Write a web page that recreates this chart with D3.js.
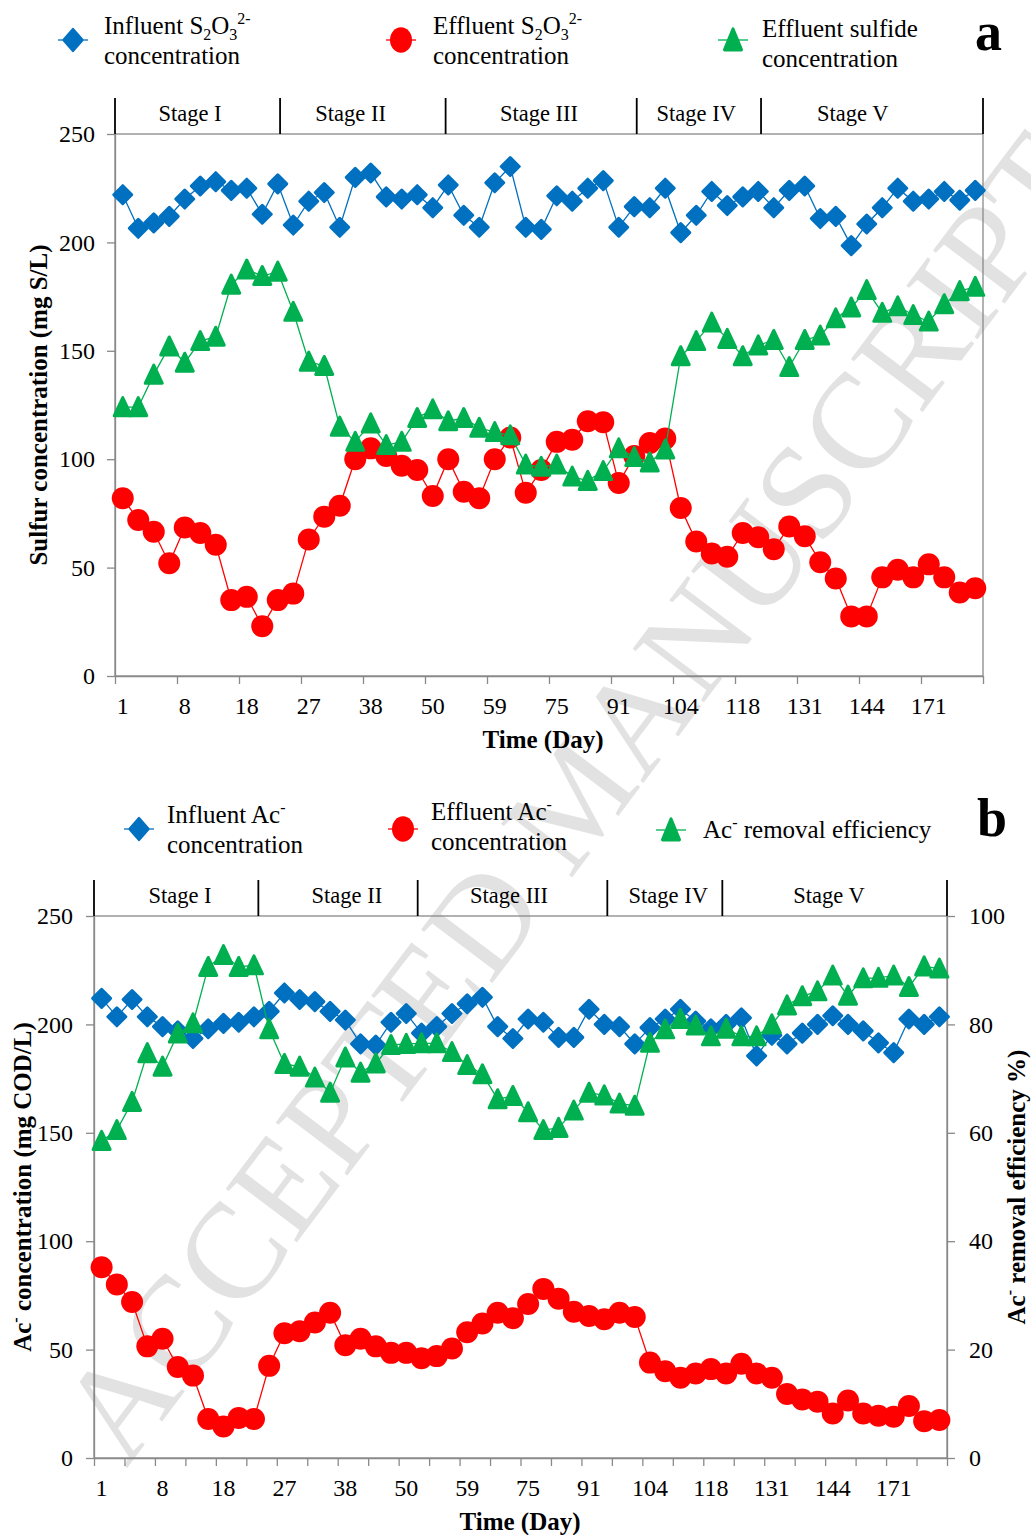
<!DOCTYPE html>
<html>
<head>
<meta charset="utf-8">
<title>Sulfur and acetate profiles</title>
<script src="https://cdnjs.cloudflare.com/ajax/libs/d3/7.8.5/d3.min.js"></script>
<style>
  body { margin: 0; background: #fff; }
  svg text { font-family: "Liberation Serif", "Times New Roman", serif; fill: #000; }
</style>
</head>
<body>
<div id="chart"></div>
<script>
// 56 samples on a category axis, only every 4th one is labelled
var dayLabels = [1, 8, 18, 27, 38, 50, 59, 75, 91, 104, 118, 131, 144, 171];
var stageNames = ["Stage I", "Stage II", "Stage III", "Stage IV", "Stage V"];

// panel a, mg S/L
var influentThio = [222, 206.5, 209, 212, 220, 226, 228, 224, 225, 213, 227, 208, 219, 223, 207, 230, 232, 221, 220, 222,
  216, 226.5, 212.5, 207, 227.5, 235, 207, 206, 221.5, 219, 225, 228.5, 207, 216.5, 216, 225, 204.5, 212.5, 223.5, 217,
  221, 223.5, 216, 224, 226, 211, 212, 198.5, 208.5, 216, 225, 219, 220, 223.5, 219.5, 224];
var effluentThio = [82, 72, 66.5, 52, 68.5, 66, 60.5, 35, 36.5, 23, 35, 38, 63, 73.5, 78.5, 100, 105, 101.5, 97, 95,
  83, 100, 85, 82, 100, 110, 84.5, 95, 108, 109, 117.5, 117, 89, 101.5, 107.5, 109.5, 77.5, 62, 56.5, 55,
  66, 64, 58.5, 69, 64.5, 52.5, 45, 27.5, 27.5, 45.5, 49, 45.5, 51.5, 45.5, 38.5, 40.5];
var effluentSulfide = [124, 124, 139, 152, 144.5, 154.5, 156.5, 180.5, 187.5, 184.5, 186.5, 168, 145, 143, 115, 108, 116.5, 106.5, 108, 119,
  123, 117.5, 119, 114.5, 112.5, 111, 97.5, 96.5, 97.5, 92, 90, 94.5, 105, 101, 98.5, 104.5, 147.5, 154.5, 163, 155.5,
  147.5, 152.5, 155, 142.5, 155, 157, 165, 170, 178, 167.5, 170.5, 166.5, 163.5, 171.5, 177.5, 179.5];

// panel b, mg COD/L and %
var influentAc = [212, 203.5, 211.5, 203.5, 199, 197, 193.5, 198, 200.5, 201, 203.5, 206, 214.5, 211.5, 210.5, 206, 202, 191, 190.5, 201,
  205, 196, 199, 205, 209.5, 212.5, 199, 193.5, 202.5, 201, 194, 194, 207, 200, 199, 191, 198.5, 202.5, 207, 201.5,
  198, 200, 203, 185.5, 195, 191, 196, 200, 204, 200, 197, 191.5, 187, 202.5, 200, 203.5];
var effluentAc = [88, 80, 72, 51.5, 55, 42, 38, 18, 14.5, 18.5, 18, 42.5, 57.5, 58.5, 62.5, 67, 52, 55, 51.5, 48.5,
  48.5, 46, 47, 50.5, 58, 62, 67, 64.5, 71, 78, 73.5, 67.5, 65.5, 64, 67, 65, 44, 40, 37, 39,
  41, 39, 43.5, 39, 37, 29.5, 27, 26, 20.5, 26.5, 20.5, 19.5, 19, 24, 17, 17.5];
var acRemoval = [58.5, 60.5, 65.7, 74.7, 72.2, 78.3, 80.2, 90.6, 92.8, 90.6, 90.9, 79.1, 72.7, 72.2, 70.2, 67.4, 73.9, 71.1, 72.8, 76.2,
  76.4, 76.5, 76.5, 74.9, 72.5, 70.8, 66.2, 66.8, 63.8, 60.5, 60.9, 64.1, 67.4, 66.9, 65.4, 65, 76.6, 79.1, 81, 79.8,
  77.8, 79.2, 77.8, 77.8, 80, 83.5, 85.2, 86.1, 89, 85.3, 88.5, 88.6, 89, 86.9, 90.7, 90.3];

// stage borders and label centres, in sample-index units
var stageBreaksA = [10.65, 21.33, 33.66, 41.68];
var stageLabelA = [4.84, 15.2, 27.35, 37.5, 47.6];
var stageBreaksB = [10.79, 21.25, 33.7, 41.25];
var stageLabelB = [5.65, 16.6, 27.25, 37.7, 48.25];

var blue = "#0070c0", red = "#ff0000", green = "#00b050", grey = "#898989";
var nCat = influentThio.length;

var svg = d3.select("#chart").append("svg")
  .attr("width", 1031).attr("height", 1535);

// watermark
svg.append("text")
  .attr("transform", "translate(575,797) rotate(-53)")
  .attr("text-anchor", "middle")
  .attr("dominant-baseline", "central")
  .style("font-size", "136px")
  .style("fill", "#e2e2e2")
  .text("ACCEPTED MANUSCRIPT");

var shapes = {
  diamond: "M0,-9L9,0L0,9L-9,0Z",
  triangle: "M0,-9.5L8.5,8.5L-8.5,8.5Z",
  circle: "M-11,0a11,11 0 1,0 22,0a11,11 0 1,0 -22,0"
};

function drawMarker(g, shape, color) {
  g.append("path")
    .attr("d", shapes[shape])
    .attr("fill", color)
    .attr("stroke", shape == "circle" ? "none" : color)
    .attr("stroke-width", 3)
    .attr("stroke-linejoin", "round");
}

function drawSeries(g, x, y, values, shape, color) {
  var line = d3.line()
    .x(function(d, i) { return x(i + 0.5); })
    .y(function(d) { return y(d); });
  g.append("path").datum(values)
    .attr("d", line)
    .attr("fill", "none")
    .attr("stroke", color)
    .attr("stroke-width", 1.3);
  g.selectAll(null).data(values).enter().append("g")
    .attr("transform", function(d, i) { return "translate(" + x(i + 0.5) + "," + y(d) + ")"; })
    .each(function() { drawMarker(d3.select(this), shape, color); });
}

function styleAxis(g) {
  g.select(".domain").attr("stroke", grey).attr("stroke-width", 1.3);
  g.selectAll(".tick line").attr("stroke", grey).attr("stroke-width", 1.3);
  g.selectAll(".tick text").style("font-size", "24px").attr("fill", "#000");
}

// text with sub/superscripts: parts = [[text, "sub"|"sup"|null], ...]
function richText(sel, parts, size) {
  var small = Math.round(size * 0.62), shift = 0;
  parts.forEach(function(p) {
    var t = sel.append("tspan").text(p[0]);
    var want = p[1] == "sub" ? size * 0.25 : p[1] == "sup" ? -size * 0.42 : 0;
    t.attr("dy", want - shift).style("font-size", (p[1] ? small : size) + "px");
    shift = want;
  });
}

function drawPanel(p) {
  var x = d3.scaleLinear().domain([0, nCat]).range([p.left, p.right]);
  var y = d3.scaleLinear().domain([0, 250]).range([p.bottom, p.top]);
  var g = svg.append("g");

  // plot frame
  g.append("rect")
    .attr("x", p.left).attr("y", p.top)
    .attr("width", p.right - p.left).attr("height", p.bottom - p.top)
    .attr("fill", "none").attr("stroke", grey).attr("stroke-width", 1.3);

  // stage strip
  var borders = [0].concat(p.breaks, [nCat]);
  g.selectAll(null).data(borders).enter().append("line")
    .attr("x1", function(d) { return x(d); }).attr("x2", function(d) { return x(d); })
    .attr("y1", p.top - 36).attr("y2", p.top)
    .attr("stroke", "#000").attr("stroke-width", 1.8);
  g.selectAll(null).data(stageNames).enter().append("text")
    .attr("x", function(d, i) { return x(p.stageLabel[i]); })
    .attr("y", p.top - 13)
    .attr("text-anchor", "middle")
    .style("font-size", "22.5px")
    .text(function(d) { return d; });

  // x axis: tick marks on category borders, labels under every 4th sample
  g.append("g")
    .attr("transform", "translate(0," + p.bottom + ")")
    .call(d3.axisBottom(x).tickValues(d3.range(0, nCat + 1, p.tickStep)).tickFormat("").tickSizeInner(8).tickSizeOuter(0))
    .call(styleAxis);
  g.selectAll(null).data(dayLabels).enter().append("text")
    .attr("x", function(d, i) { return x(i * 4 + 0.5); })
    .attr("y", p.bottom + 38)
    .attr("text-anchor", "middle")
    .style("font-size", "24px")
    .text(function(d) { return d; });

  g.append("g")
    .attr("transform", "translate(" + p.left + ",0)")
    .call(d3.axisLeft(y).tickValues(d3.range(0, 251, 50)).tickSizeInner(8).tickSizeOuter(0).tickPadding(p.padLeft))
    .call(styleAxis);

  var xt = g.append("text")
    .attr("x", p.titleX).attr("y", p.bottom + 72)
    .attr("text-anchor", "middle")
    .style("font-size", "25px").style("font-weight", "bold");
  richText(xt, [["Time (Day)"]], 25);

  var yt = g.append("text")
    .attr("transform", "translate(" + p.yTitleX + "," + (p.top + p.bottom) / 2 + ") rotate(-90)")
    .attr("text-anchor", "middle")
    .style("font-size", "25px").style("font-weight", "bold");
  richText(yt, p.yTitle, 25);

  return { g: g, x: x, y: y };
}

function drawLegend(items, size) {
  items.forEach(function(it) {
    var m = svg.append("g").attr("transform", "translate(" + it.mx + "," + it.my + ")");
    m.append("line").attr("x1", -15).attr("x2", 15).attr("stroke", it.color).attr("stroke-width", 1.3);
    var inner = m.append("g").attr("transform", "scale(1,1.15)");
    drawMarker(inner, it.shape, it.color);
    it.lines.forEach(function(parts, k) {
      var t = svg.append("text")
        .attr("x", it.tx).attr("y", it.ty + k * 30)
        .style("font-size", size + "px");
      richText(t, parts, size);
    });
  });
}

// ---------- panel a ----------
var a = drawPanel({
  left: 115, right: 983, top: 134, bottom: 676,
  breaks: stageBreaksA, stageLabel: stageLabelA,
  tickStep: 4, padLeft: 12, titleX: 543, yTitleX: 47,
  yTitle: [["Sulfur concentration (mg S/L)"]]
});
drawSeries(a.g, a.x, a.y, influentThio, "diamond", blue);
drawSeries(a.g, a.x, a.y, effluentThio, "circle", red);
drawSeries(a.g, a.x, a.y, effluentSulfide, "triangle", green);

drawLegend([
  { mx: 73, my: 40, shape: "diamond", color: blue, tx: 104, ty: 34,
    lines: [[["Influent S"], ["2", "sub"], ["O"], ["3", "sub"], ["2-", "sup"]], [["concentration"]]] },
  { mx: 401, my: 40, shape: "circle", color: red, tx: 433, ty: 34,
    lines: [[["Effluent S"], ["2", "sub"], ["O"], ["3", "sub"], ["2-", "sup"]], [["concentration"]]] },
  { mx: 733, my: 40, shape: "triangle", color: green, tx: 762, ty: 37,
    lines: [[["Effluent sulfide"]], [["concentration"]]] }
], 25);

svg.append("text").attr("x", 975).attr("y", 50)
  .style("font-size", "54px").style("font-weight", "bold").text("a");

// ---------- panel b ----------
var b = drawPanel({
  left: 94, right: 947, top: 916, bottom: 1458,
  breaks: stageBreaksB, stageLabel: stageLabelB,
  tickStep: 2, padLeft: 13, titleX: 520, yTitleX: 31,
  yTitle: [["Ac"], ["-", "sup"], [" concentration (mg COD/L)"]]
});
var yPct = d3.scaleLinear().domain([0, 100]).range([1458, 916]);
b.g.append("g")
  .attr("transform", "translate(947,0)")
  .call(d3.axisRight(yPct).tickValues(d3.range(0, 101, 20)).tickSizeInner(8).tickSizeOuter(0).tickPadding(14))
  .call(styleAxis);
var rt = b.g.append("text")
  .attr("transform", "translate(1025,1187) rotate(-90)")
  .attr("text-anchor", "middle")
  .style("font-size", "25px").style("font-weight", "bold");
richText(rt, [["Ac"], ["-", "sup"], [" removal efficiency %)"]], 25);

drawSeries(b.g, b.x, b.y, influentAc, "diamond", blue);
drawSeries(b.g, b.x, b.y, effluentAc, "circle", red);
drawSeries(b.g, b.x, yPct, acRemoval, "triangle", green);

drawLegend([
  { mx: 139, my: 829, shape: "diamond", color: blue, tx: 167, ty: 823,
    lines: [[["Influent Ac"], ["-", "sup"]], [["concentration"]]] },
  { mx: 403, my: 829, shape: "circle", color: red, tx: 431, ty: 820,
    lines: [[["Effluent Ac"], ["-", "sup"]], [["concentration"]]] },
  { mx: 671, my: 830, shape: "triangle", color: green, tx: 703, ty: 838,
    lines: [[["Ac"], ["-", "sup"], [" removal efficiency"]]] }
], 25);

svg.append("text").attr("x", 977).attr("y", 836)
  .style("font-size", "54px").style("font-weight", "bold").text("b");
</script>
</body>
</html>
